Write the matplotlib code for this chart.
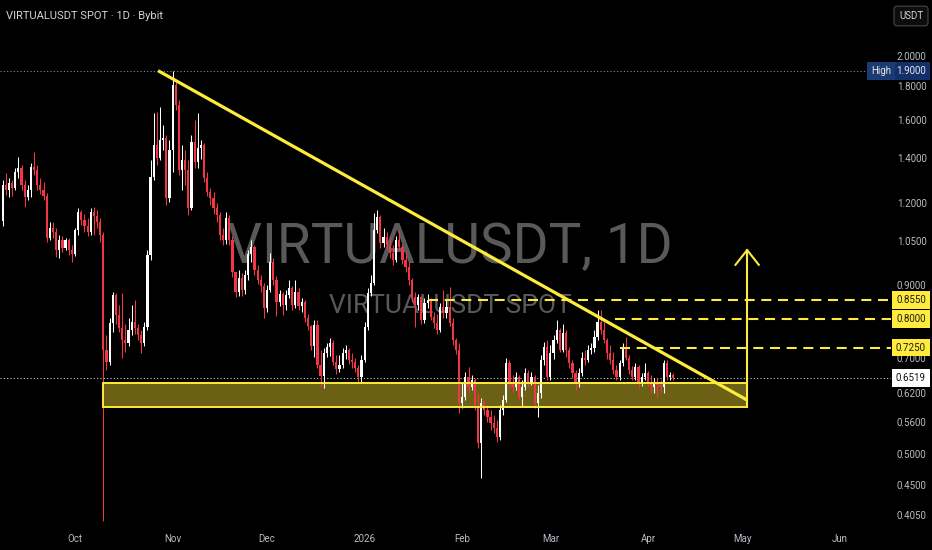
import numpy as np
import matplotlib
matplotlib.use('Agg')
import matplotlib.pyplot as plt
import matplotlib.transforms as mtransforms
from matplotlib.patches import Rectangle
from matplotlib.ticker import FixedLocator, FixedFormatter, NullLocator

# daily candles, x = days counted from 2025-10-01 (first candle 2025-09-08)
first_day = -23
first_open = 1.125
close = [1.277, 1.255, 1.286, 1.264, 1.336, 1.354, 1.277, 1.225, 1.255, 1.359,
         1.345, 1.277, 1.255, 1.229, 1.062, 1.100, 1.085, 1.018, 1.054, 1.025,
         1.054, 1.018, 1.004, 1.092, 1.163, 1.130, 1.107, 1.085, 1.163, 1.147,
         1.122, 1.073, 0.719, 0.689, 0.790, 0.871, 0.812, 0.777, 0.745, 0.737,
         0.771, 0.793, 0.777, 0.758, 0.737, 0.779, 1.000, 1.313, 1.468, 1.403,
         1.493, 1.503, 1.220, 1.442, 1.808, 1.686, 1.345, 1.393, 1.345, 1.179,
         1.483, 1.383, 1.452, 1.468, 1.308, 1.246, 1.220, 1.179, 1.151, 1.073,
         1.054, 1.139, 1.054, 0.943, 0.880, 0.924, 0.886, 0.933, 1.004, 1.029,
         0.950, 0.917, 0.899, 0.832, 0.886, 0.976, 0.917, 0.850, 0.874, 0.841,
         0.871, 0.893, 0.841, 0.880, 0.838, 0.850, 0.804, 0.782, 0.729, 0.785,
         0.683, 0.657, 0.711, 0.727, 0.737, 0.689, 0.673, 0.683, 0.711, 0.719,
         0.694, 0.689, 0.676, 0.655, 0.694, 0.779, 0.877, 0.908, 1.092, 1.143,
         1.043, 1.066, 1.036, 1.008, 0.983, 1.054, 1.029, 0.983, 0.960, 0.917,
         0.865, 0.841, 0.865, 0.798, 0.847, 0.856, 0.806, 0.790, 0.771, 0.835,
         0.818, 0.835, 0.790, 0.745, 0.719, 0.598, 0.611, 0.655, 0.632, 0.648,
         0.590, 0.521, 0.598, 0.584, 0.570, 0.557, 0.549, 0.531, 0.584, 0.604,
         0.687, 0.641, 0.632, 0.655, 0.611, 0.632, 0.664, 0.641, 0.655, 0.598,
         0.619, 0.694, 0.727, 0.655, 0.711, 0.745, 0.771, 0.719, 0.763, 0.719,
         0.687, 0.664, 0.641, 0.664, 0.699, 0.694, 0.719, 0.724, 0.753, 0.793,
         0.771, 0.745, 0.711, 0.694, 0.671, 0.655, 0.687, 0.727, 0.699, 0.671,
         0.655, 0.678, 0.641, 0.655, 0.664, 0.641, 0.632, 0.641, 0.637, 0.632,
         0.687, 0.655, 0.660, 0.6519]
high = [1.299, 1.331, 1.308, 1.299, 1.354, 1.407, 1.368, 1.299, 1.277, 1.378,
        1.432, 1.368, 1.308, 1.290, 1.242, 1.122, 1.122, 1.100, 1.073, 1.069,
        1.062, 1.062, 1.036, 1.100, 1.179, 1.171, 1.155, 1.139, 1.179, 1.183,
        1.171, 1.139, 1.085, 0.758, 0.804, 0.880, 0.877, 0.841, 0.877, 0.787,
        0.804, 0.841, 0.856, 0.787, 0.771, 0.793, 1.018, 1.393, 1.640, 1.646,
        1.675, 1.573, 1.519, 1.493, 1.900, 1.840, 1.716, 1.468, 1.442, 1.393,
        1.519, 1.600, 1.640, 1.493, 1.478, 1.336, 1.264, 1.246, 1.199, 1.163,
        1.100, 1.163, 1.151, 1.069, 0.943, 0.950, 0.940, 0.950, 1.018, 1.054,
        1.036, 0.966, 0.933, 0.908, 0.902, 1.008, 0.990, 0.930, 0.886, 0.880,
        0.886, 0.917, 0.899, 0.917, 0.893, 0.862, 0.856, 0.815, 0.785, 0.798,
        0.798, 0.719, 0.724, 0.737, 0.750, 0.745, 0.706, 0.706, 0.724, 0.732,
        0.724, 0.711, 0.699, 0.683, 0.706, 0.793, 0.893, 0.933, 1.159, 1.171,
        1.151, 1.100, 1.085, 1.066, 1.036, 1.069, 1.092, 1.040, 1.011, 0.976,
        0.924, 0.880, 0.874, 0.868, 0.862, 0.874, 0.862, 0.820, 0.815, 0.847,
        0.886, 0.856, 0.896, 0.804, 0.750, 0.737, 0.641, 0.666, 0.678, 0.660,
        0.653, 0.619, 0.608, 0.604, 0.594, 0.584, 0.574, 0.564, 0.594, 0.615,
        0.699, 0.694, 0.660, 0.666, 0.660, 0.648, 0.676, 0.671, 0.666, 0.660,
        0.637, 0.706, 0.740, 0.745, 0.732, 0.758, 0.798, 0.777, 0.787, 0.771,
        0.727, 0.694, 0.671, 0.676, 0.714, 0.719, 0.732, 0.737, 0.771, 0.826,
        0.826, 0.793, 0.750, 0.732, 0.714, 0.683, 0.694, 0.737, 0.753, 0.706,
        0.681, 0.687, 0.683, 0.664, 0.687, 0.669, 0.660, 0.653, 0.653, 0.648,
        0.694, 0.694, 0.666, 0.664]
low = [1.107, 1.233, 1.225, 1.229, 1.255, 1.308, 1.255, 1.183, 1.212, 1.225,
       1.322, 1.255, 1.238, 1.212, 1.047, 1.054, 1.062, 0.993, 0.990, 1.011,
       1.018, 1.000, 0.976, 0.997, 1.073, 1.111, 1.085, 1.069, 1.073, 1.073,
       1.100, 1.047, 0.396, 0.671, 0.683, 0.766, 0.787, 0.766, 0.699, 0.714,
       0.729, 0.758, 0.761, 0.745, 0.711, 0.729, 0.771, 0.983, 1.299, 1.368,
       1.393, 1.442, 1.191, 1.203, 1.336, 1.657, 1.322, 1.255, 1.277, 1.151,
       1.171, 1.354, 1.354, 1.398, 1.290, 1.229, 1.191, 1.155, 1.122, 1.054,
       1.036, 1.040, 1.036, 0.927, 0.865, 0.868, 0.868, 0.874, 0.917, 0.976,
       0.933, 0.905, 0.880, 0.804, 0.820, 0.880, 0.902, 0.809, 0.838, 0.812,
       0.826, 0.862, 0.826, 0.832, 0.826, 0.820, 0.793, 0.771, 0.719, 0.702,
       0.676, 0.632, 0.630, 0.702, 0.704, 0.683, 0.662, 0.666, 0.676, 0.697,
       0.685, 0.676, 0.666, 0.643, 0.643, 0.689, 0.771, 0.868, 0.902, 1.081,
       1.025, 1.029, 1.018, 0.990, 0.966, 0.976, 1.018, 0.970, 0.943, 0.902,
       0.850, 0.779, 0.826, 0.787, 0.790, 0.832, 0.798, 0.777, 0.761, 0.766,
       0.804, 0.804, 0.782, 0.732, 0.709, 0.578, 0.588, 0.604, 0.621, 0.626,
       0.584, 0.512, 0.461, 0.574, 0.560, 0.545, 0.538, 0.522, 0.526, 0.574,
       0.600, 0.630, 0.621, 0.626, 0.604, 0.590, 0.626, 0.632, 0.637, 0.588,
       0.570, 0.608, 0.683, 0.648, 0.648, 0.697, 0.737, 0.714, 0.714, 0.702,
       0.676, 0.653, 0.626, 0.632, 0.657, 0.683, 0.689, 0.709, 0.714, 0.745,
       0.761, 0.737, 0.697, 0.685, 0.662, 0.648, 0.648, 0.681, 0.694, 0.662,
       0.648, 0.648, 0.632, 0.634, 0.648, 0.634, 0.619, 0.619, 0.611, 0.621,
       0.619, 0.648, 0.648, 0.648]

month_days = [0, 31, 61, 92, 123, 151, 182, 212, 243]
month_labels = ['Oct', 'Nov', 'Dec', '2026', 'Feb', 'Mar', 'Apr', 'May', 'Jun']
price_ticks = [2.0, 1.8, 1.6, 1.4, 1.2, 1.05, 0.9, 0.7, 0.62, 0.56, 0.5, 0.45, 0.405]

# drawings
level_prices = [0.855, 0.800, 0.725]
level_start = [112, 171.5, 173]
zone_low, zone_high = 0.590, 0.641
zone_start, zone_end = 9, 213.5
trend_x = [26.4, 213.5]
trend_y = [1.90, 0.604]
arrow_x = 213.5
arrow_top = 1.018
arrow_head_y = 0.967
arrow_half = 3.7
high_price = 1.90

days = np.arange(first_day, first_day + len(close))
opens = np.array([first_open] + close[:-1])
closes = np.array(close)
last_price = closes[-1]

plt.rcParams['font.family'] = ['Roboto', 'DejaVu Sans']
yellow = '#ffeb3b'
txt = '#b8bbc4'

fig = plt.figure(figsize=(9.32, 5.5), dpi=100, facecolor='black')
ax = fig.add_axes([0, 22 / 550, 891 / 932, 528 / 550])
ax.set_facecolor('black')
ax.set_yscale('log')
ax.set_xlim(-23.83, 259.2)
ax.set_ylim(0.387, 2.43)
for s in ax.spines.values():
    s.set_visible(False)

# watermark
ax.text(0.505, 0.502, 'VIRTUALUSDT, 1D', transform=ax.transAxes, ha='center',
        va='baseline', fontsize=39.5, color='#595959', zorder=0)
ax.text(0.505, 0.407, 'VIRTUALUSDT SPOT', transform=ax.transAxes, ha='center',
        va='baseline', fontsize=19, color='#595959', zorder=0)

# support zone (behind the candles)
ax.add_patch(Rectangle((zone_start, zone_low), zone_end - zone_start, zone_high - zone_low,
                       facecolor='#6b6014', edgecolor='none', zorder=1))

# dotted reference lines
ax.axhline(high_price, xmax=869 / 891, color='#8a8d96', lw=0.8, ls=(0, (1, 2)), zorder=2)
ax.axhline(last_price, color='#c8c8c8', lw=0.8, ls=(0, (1, 2)), zorder=2)

# candles
up = closes >= opens
colors = np.where(up, '#ffffff', '#f23645')
bottom = np.minimum(opens, closes)
top = np.maximum(opens, closes)
ax.vlines(days, low, high, colors=colors, lw=0.75, zorder=3)
ax.bar(days, np.maximum(top - bottom, bottom * 0.004), bottom=bottom, width=0.7,
       color=colors, linewidth=0, zorder=4)

ax.add_patch(Rectangle((zone_start, zone_low), zone_end - zone_start, zone_high - zone_low,
                       facecolor='none', edgecolor=yellow, lw=1.4, zorder=6))

# resistance levels
for p, s in zip(level_prices, level_start):
    ax.plot([s, 259.2], [p, p], color=yellow, lw=1.5, dashes=(4.8, 3.2), zorder=6)

# trend line and arrow
ax.plot(trend_x, trend_y, color=yellow, lw=2.3, solid_capstyle='butt', zorder=7)
ax.plot([arrow_x, arrow_x], [zone_low, arrow_top], color=yellow, lw=1.5, zorder=7)
ax.plot([arrow_x - arrow_half, arrow_x, arrow_x + arrow_half],
        [arrow_head_y, arrow_top, arrow_head_y], color=yellow, lw=1.5, zorder=7)

# axes
ax.yaxis.tick_right()
ax.yaxis.set_major_locator(FixedLocator(price_ticks))
ax.yaxis.set_major_formatter(FixedFormatter(['%.4f' % p for p in price_ticks]))
ax.yaxis.set_minor_locator(NullLocator())
ax.set_xticks(month_days)
ax.set_xticklabels(month_labels)
ax.tick_params(axis='y', length=0, pad=4.3, labelsize=7, labelcolor=txt)
ax.tick_params(axis='x', length=0, pad=4, labelsize=7, labelcolor=txt)

# price labels on the scale
trans = mtransforms.blended_transform_factory(fig.transFigure, ax.transData)


def price_label(p, text, fc, tc, x=911 / 932):
    ax.text(x, p, text, transform=trans, ha='center', va='center', fontsize=7,
            color=tc, clip_on=False, zorder=10,
            bbox=dict(boxstyle='square,pad=0.4', fc=fc, ec=fc, lw=0))


for p in level_prices:
    price_label(p, '%.4f' % p, yellow, '#1a1a1a')
price_label(last_price, '%.4f' % last_price, '#ffffff', '#111111')
price_label(high_price, '%.4f' % high_price, '#13306a', '#e8e8e8')
price_label(high_price, 'High', '#1c3b73', '#e8e8e8', x=881 / 932)

fig.text(6 / 932, 1 - 19 / 550, 'VIRTUALUSDT SPOT · 1D · Bybit', fontsize=8,
         color='#d1d4dc', va='baseline')
fig.text(911 / 932, 1 - 16 / 550, 'USDT', fontsize=7, color='#d1d4dc', ha='center',
         va='center', bbox=dict(boxstyle='round,pad=0.5,rounding_size=0.3',
                                fc='#0d0d0d', ec='#434651', lw=0.8))

fig.savefig('out.png', dpi=100, facecolor='black')
